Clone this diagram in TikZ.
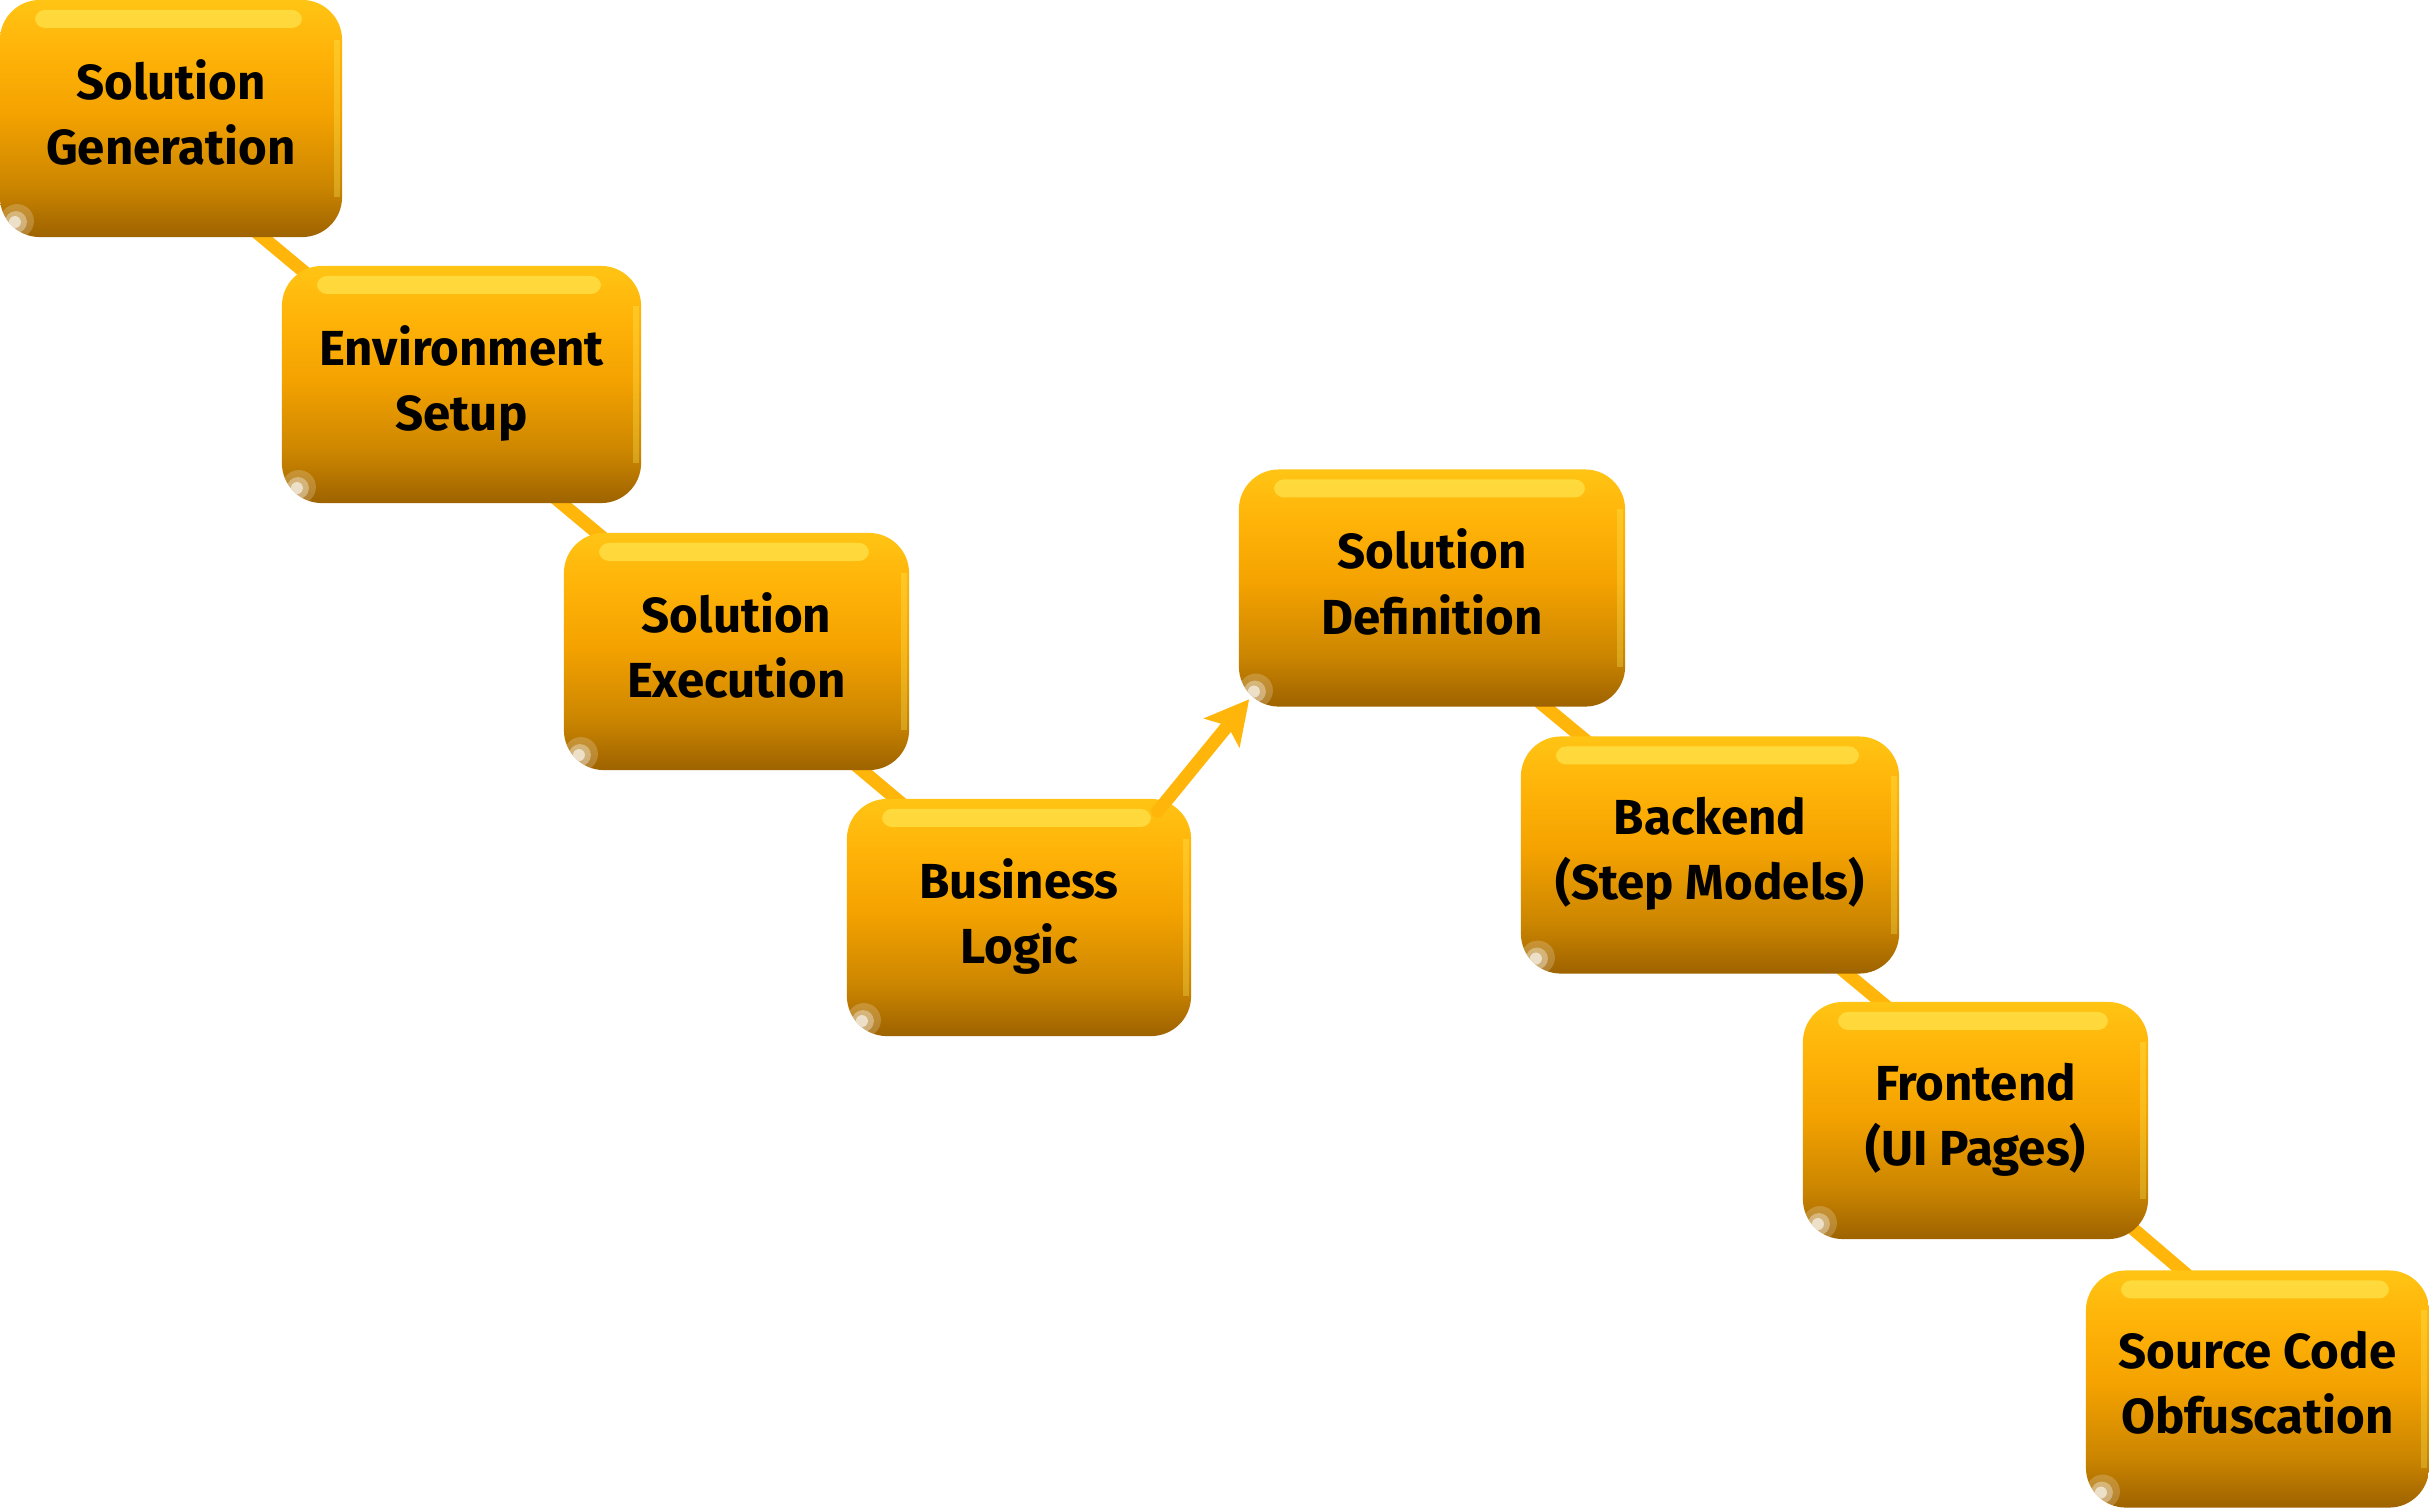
\documentclass[tikz,border=0pt]{standalone}
\usepackage{fontspec}
\setmainfont{Fira Sans}
\usetikzlibrary{arrows.meta,calc,backgrounds}
\definecolor{boxtop}{HTML}{FFC414}
\definecolor{boxup}{HTML}{FFB308}
\definecolor{boxmid}{HTML}{F4A200}
\definecolor{boxlow}{HTML}{CC8600}
\definecolor{boxbot}{HTML}{9E6300}
\definecolor{hl}{HTML}{FFF060}
\definecolor{link}{HTML}{FFB50A}
\pgfdeclareverticalshading{boxshade}{100bp}{color(0bp)=(boxbot); color(25bp)=(boxbot); color(36bp)=(boxlow); color(51bp)=(boxmid); color(64bp)=(boxup); color(75bp)=(boxtop); color(100bp)=(boxtop)}
\tikzset{
  box/.style={rounded corners=0.4cm, shading=boxshade,
    align=center, text=black, font=\fontsize{14}{18.5}\selectfont\bfseries, inner sep=0pt,
    text depth=0.13cm, minimum height=2.37cm,
    path picture={
      \fill[hl, opacity=.55, rounded corners=0.1cm]
        ([xshift=0.35cm,yshift=-0.1cm]path picture bounding box.north west) rectangle
        ([xshift=-0.4cm,yshift=-0.28cm]path picture bounding box.north east);
      \fill[hl, opacity=.3, sharp corners]
        ([xshift=-0.08cm,yshift=-0.4cm]path picture bounding box.north east) rectangle
        ([xshift=-0.02cm,yshift=0.4cm]path picture bounding box.south east);
      \fill[white, opacity=.2, sharp corners]
        ([xshift=0.17cm,yshift=0.16cm]path picture bounding box.south west) circle (0.17cm);
      \fill[white, opacity=.35, sharp corners]
        ([xshift=0.16cm,yshift=0.15cm]path picture bounding box.south west) circle (0.11cm);
      \fill[white, opacity=.6, sharp corners]
        ([xshift=0.15cm,yshift=0.15cm]path picture bounding box.south west) circle (0.06cm);
    }},
  link/.style={draw=link, line width=0.13cm},
  linkarrow/.style={link, line cap=round, -{Stealth[length=0.43cm, width=0.45cm, inset=0.09cm]}}
}
\begin{document}
\begin{tikzpicture}[x=0.01cm, y=-0.01cm]
\useasboundingbox (0,0) rectangle (2429,1508);
\node[box, minimum width=3.42cm] (b1) at (171,118.5) {Solution\\Generation};
\node[box, minimum width=3.59cm] (b2) at (461.5,384.5) {Environment\\Setup};
\node[box, minimum width=3.45cm] (b3) at (736.5,651.5) {Solution\\Execution};
\node[box, minimum width=3.44cm] (b4) at (1019,917.5) {Business\\Logic};
\node[box, minimum width=3.86cm] (b5) at (1432,588) {Solution\\Definition};
\node[box, minimum width=3.78cm] (b6) at (1710,855) {Backend\\(Step Models)};
\node[box, minimum width=3.45cm] (b7) at (1975.5,1120.5) {Frontend\\(UI Pages)};
\node[box, minimum width=3.43cm] (b8) at (2257.5,1389) {Source Code\\Obfuscation};
\coordinate (s12) at ($(b1.south west)+(252,-10)$);
\coordinate (e12) at ($(b2.north west)+(27,10)$);
\coordinate (s23) at ($(b2.south west)+(269,-10)$);
\coordinate (e23) at ($(b3.north west)+(45,10)$);
\coordinate (s34) at ($(b3.south west)+(287.5,-10)$);
\coordinate (e34) at ($(b4.north west)+(61,10)$);
\coordinate (s56) at ($(b5.south west)+(295.5,-10)$);
\coordinate (e56) at ($(b6.north west)+(72,10)$);
\coordinate (s67) at ($(b6.south west)+(315.5,-10)$);
\coordinate (e67) at ($(b7.north west)+(90,10)$);
\coordinate (s78) at ($(b7.south west)+(321.5,-19)$);
\coordinate (e78) at ($(b8.north west)+(107.5,10)$);
\coordinate (s45) at ($(b4.north east)+(-34,13)$);
\coordinate (e45) at ($(b5.south west)+(11,-8)$);
\begin{scope}[on background layer]
\fill[white] (0,0) rectangle (2429,1508);
\draw[link] (s12) -- (e12);
\draw[link] (s23) -- (e23);
\draw[link] (s34) -- (e34);
\draw[link] (s56) -- (e56);
\draw[link] (s67) -- (e67);
\draw[link] (s78) -- (e78);
\end{scope}
\draw[linkarrow] (s45) -- (e45);
\end{tikzpicture}
\end{document}
